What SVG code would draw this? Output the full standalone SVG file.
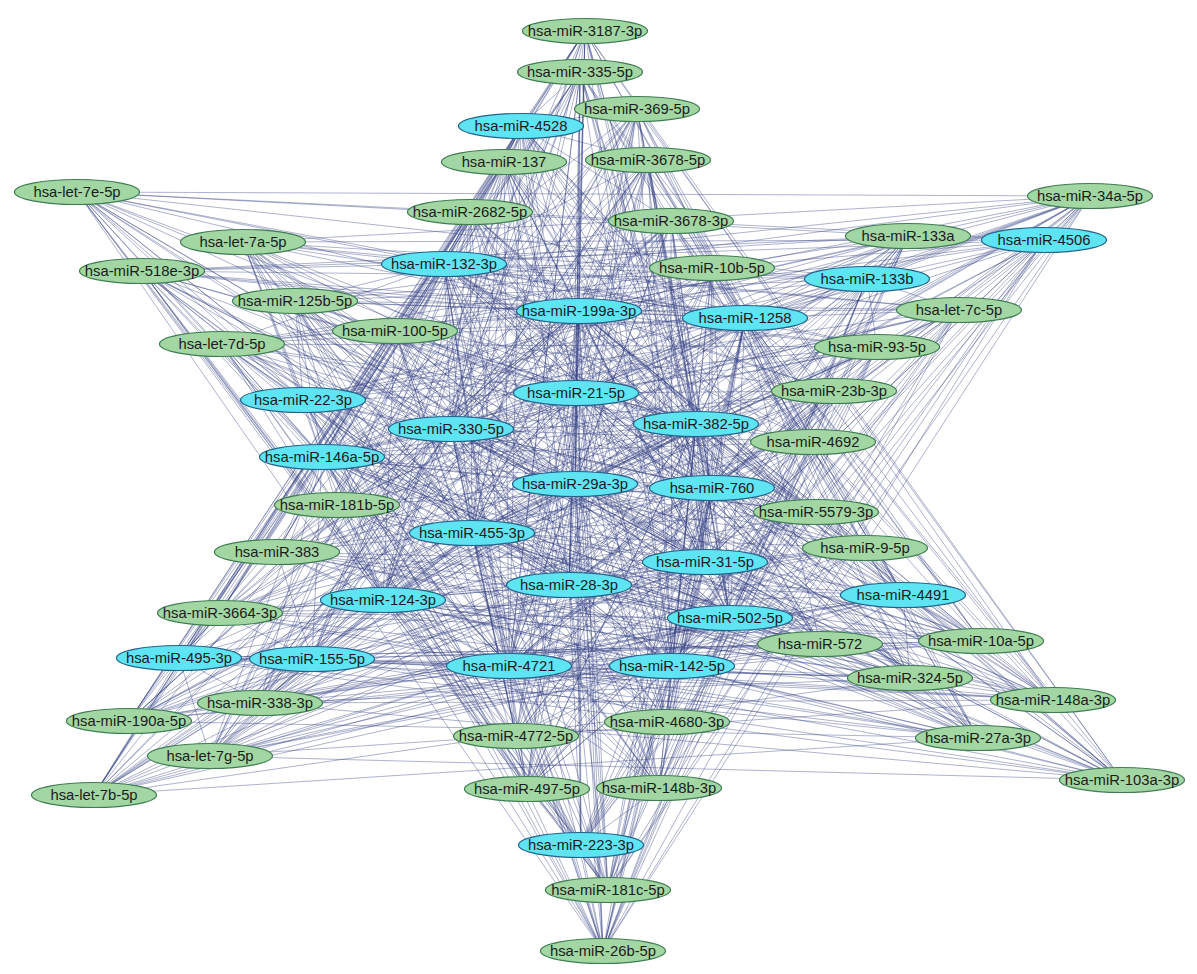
<svg xmlns="http://www.w3.org/2000/svg" width="1197" height="974" viewBox="0 0 1197 974">
<style>
#edges path{fill:none;stroke:#2f3b80;stroke-width:0.75;stroke-opacity:0.52}
.g ellipse{fill:#a2d6a2;stroke:#3f7d52;stroke-width:1.2}
.c ellipse{fill:#5fe4f4;stroke:#22648a;stroke-width:1.2}
text{font-family:"Liberation Sans",Arial,sans-serif;font-size:14.8px;fill:#1c1c1c;text-anchor:middle}
</style>
<rect width="1197" height="974" fill="#ffffff"/>
<g id="edges">
<path d="M585 31L521 126M585 31L444 264M585 31L579 311M585 31L745 318M585 31L576 393M585 31L696 424M585 31L451 429M585 31L322 457M585 31L575 484M585 31L712 488M585 31L472 533M585 31L705 562M585 31L569 585M585 31L903 595M585 31L383 600M585 31L730 618M585 31L179 658M585 31L312 659M585 31L509 666M585 31L672 666"/>
<path d="M580 72L521 126M580 72L444 264M580 72L579 311M580 72L745 318M580 72L576 393M580 72L696 424M580 72L451 429M580 72L322 457M580 72L575 484M580 72L712 488M580 72L472 533M580 72L705 562M580 72L569 585M580 72L903 595M580 72L383 600M580 72L730 618M580 72L179 658M580 72L312 659M580 72L509 666M580 72L672 666"/>
<path d="M637 109L521 126M637 109L444 264M637 109L579 311M637 109L745 318M637 109L576 393M637 109L696 424M637 109L451 429M637 109L322 457M637 109L575 484M637 109L712 488M637 109L472 533M637 109L705 562M637 109L569 585M637 109L903 595M637 109L383 600M637 109L730 618M637 109L179 658M637 109L312 659M637 109L509 666M637 109L672 666"/>
<path d="M504 162L521 126M504 162L444 264M504 162L579 311M504 162L745 318M504 162L576 393M504 162L696 424M504 162L451 429M504 162L322 457M504 162L575 484M504 162L712 488M504 162L472 533M504 162L705 562M504 162L569 585M504 162L903 595M504 162L383 600M504 162L730 618M504 162L179 658M504 162L312 659M504 162L509 666M504 162L672 666"/>
<path d="M648 160L521 126M648 160L444 264M648 160L579 311M648 160L745 318M648 160L576 393M648 160L696 424M648 160L451 429M648 160L322 457M648 160L575 484M648 160L712 488M648 160L472 533M648 160L705 562M648 160L569 585M648 160L903 595M648 160L383 600M648 160L730 618M648 160L179 658M648 160L312 659M648 160L509 666M648 160L672 666"/>
<path d="M470 212L521 126M470 212L444 264M470 212L579 311M470 212L745 318M470 212L576 393M470 212L696 424M470 212L451 429M470 212L322 457M470 212L575 484M470 212L712 488M470 212L472 533M470 212L705 562M470 212L569 585M470 212L903 595M470 212L383 600M470 212L730 618M470 212L179 658M470 212L312 659M470 212L509 666M470 212L672 666"/>
<path d="M671 221L521 126M671 221L444 264M671 221L579 311M671 221L745 318M671 221L576 393M671 221L696 424M671 221L451 429M671 221L322 457M671 221L575 484M671 221L712 488M671 221L472 533M671 221L705 562M671 221L569 585M671 221L903 595M671 221L383 600M671 221L730 618M671 221L179 658M671 221L312 659M671 221L509 666M671 221L672 666"/>
<path d="M220 613L521 126M220 613L444 264M220 613L579 311M220 613L745 318M220 613L576 393M220 613L696 424M220 613L451 429M220 613L322 457M220 613L575 484M220 613L712 488M220 613L472 533M220 613L705 562M220 613L569 585M220 613L903 595M220 613L383 600M220 613L730 618M220 613L179 658M220 613L312 659M220 613L509 666M220 613L672 666"/>
<path d="M260 703L521 126M260 703L444 264M260 703L579 311M260 703L745 318M260 703L576 393M260 703L696 424M260 703L451 429M260 703L322 457M260 703L575 484M260 703L712 488M260 703L472 533M260 703L705 562M260 703L569 585M260 703L903 595M260 703L383 600M260 703L730 618M260 703L179 658M260 703L312 659M260 703L509 666M260 703L672 666"/>
<path d="M129 721L521 126M129 721L444 264M129 721L579 311M129 721L745 318M129 721L576 393M129 721L696 424M129 721L451 429M129 721L322 457M129 721L575 484M129 721L712 488M129 721L472 533M129 721L705 562M129 721L569 585M129 721L903 595M129 721L383 600M129 721L730 618M129 721L179 658M129 721L312 659M129 721L509 666M129 721L672 666"/>
<path d="M210 756L521 126M210 756L444 264M210 756L579 311M210 756L745 318M210 756L576 393M210 756L696 424M210 756L451 429M210 756L322 457M210 756L575 484M210 756L712 488M210 756L472 533M210 756L705 562M210 756L569 585M210 756L903 595M210 756L383 600M210 756L730 618M210 756L179 658M210 756L312 659M210 756L509 666M210 756L672 666"/>
<path d="M94 795L521 126M94 795L444 264M94 795L579 311M94 795L745 318M94 795L576 393M94 795L696 424M94 795L451 429M94 795L322 457M94 795L575 484M94 795L712 488M94 795L472 533M94 795L705 562M94 795L569 585M94 795L903 595M94 795L383 600M94 795L730 618M94 795L179 658M94 795L312 659M94 795L509 666M94 795L672 666"/>
<path d="M277 552L521 126M277 552L444 264M277 552L579 311M277 552L745 318M277 552L576 393M277 552L696 424M277 552L451 429M277 552L322 457M277 552L575 484M277 552L712 488M277 552L472 533M277 552L705 562M277 552L569 585M277 552L903 595M277 552L383 600M277 552L730 618M277 552L179 658M277 552L312 659M277 552L509 666M277 552L672 666"/>
<path d="M820 644L521 126M820 644L444 264M820 644L579 311M820 644L745 318M820 644L576 393M820 644L696 424M820 644L451 429M820 644L322 457M820 644L575 484M820 644L712 488M820 644L472 533M820 644L705 562M820 644L569 585M820 644L903 595M820 644L383 600M820 644L730 618M820 644L179 658M820 644L312 659M820 644L509 666M820 644L672 666"/>
<path d="M981 641L521 126M981 641L444 264M981 641L579 311M981 641L745 318M981 641L576 393M981 641L696 424M981 641L451 429M981 641L322 457M981 641L575 484M981 641L712 488M981 641L472 533M981 641L705 562M981 641L569 585M981 641L903 595M981 641L383 600M981 641L730 618M981 641L179 658M981 641L312 659M981 641L509 666M981 641L672 666"/>
<path d="M910 678L521 126M910 678L444 264M910 678L579 311M910 678L745 318M910 678L576 393M910 678L696 424M910 678L451 429M910 678L322 457M910 678L575 484M910 678L712 488M910 678L472 533M910 678L705 562M910 678L569 585M910 678L903 595M910 678L383 600M910 678L730 618M910 678L179 658M910 678L312 659M910 678L509 666M910 678L672 666"/>
<path d="M1053 700L521 126M1053 700L444 264M1053 700L579 311M1053 700L745 318M1053 700L576 393M1053 700L696 424M1053 700L451 429M1053 700L322 457M1053 700L575 484M1053 700L712 488M1053 700L472 533M1053 700L705 562M1053 700L569 585M1053 700L903 595M1053 700L383 600M1053 700L730 618M1053 700L179 658M1053 700L312 659M1053 700L509 666M1053 700L672 666"/>
<path d="M978 738L521 126M978 738L444 264M978 738L579 311M978 738L745 318M978 738L576 393M978 738L696 424M978 738L451 429M978 738L322 457M978 738L575 484M978 738L712 488M978 738L472 533M978 738L705 562M978 738L569 585M978 738L903 595M978 738L383 600M978 738L730 618M978 738L179 658M978 738L312 659M978 738L509 666M978 738L672 666"/>
<path d="M1122 780L521 126M1122 780L444 264M1122 780L579 311M1122 780L745 318M1122 780L576 393M1122 780L696 424M1122 780L451 429M1122 780L322 457M1122 780L575 484M1122 780L712 488M1122 780L472 533M1122 780L705 562M1122 780L569 585M1122 780L903 595M1122 780L383 600M1122 780L730 618M1122 780L179 658M1122 780L312 659M1122 780L509 666M1122 780L672 666"/>
<path d="M865 548L521 126M865 548L444 264M865 548L579 311M865 548L745 318M865 548L576 393M865 548L696 424M865 548L451 429M865 548L322 457M865 548L575 484M865 548L712 488M865 548L472 533M865 548L705 562M865 548L569 585M865 548L903 595M865 548L383 600M865 548L730 618M865 548L179 658M865 548L312 659M865 548L509 666M865 548L672 666"/>
<path d="M77 192L444 264M77 192L579 311M77 192L745 318M77 192L1044 240M77 192L867 279M77 192L576 393M77 192L696 424M77 192L451 429M77 192L303 400M77 192L322 457M77 192L575 484M77 192L712 488M77 192L472 533M77 192L705 562M77 192L569 585M77 192L383 600M77 192L730 618M77 192L509 666M77 192L672 666M77 192L581 845"/>
<path d="M243 242L444 264M243 242L579 311M243 242L745 318M243 242L1044 240M243 242L867 279M243 242L576 393M243 242L696 424M243 242L451 429M243 242L303 400M243 242L322 457M243 242L575 484M243 242L712 488M243 242L472 533M243 242L705 562M243 242L569 585M243 242L383 600M243 242L730 618M243 242L509 666M243 242L672 666M243 242L581 845"/>
<path d="M142 271L444 264M142 271L579 311M142 271L745 318M142 271L1044 240M142 271L867 279M142 271L576 393M142 271L696 424M142 271L451 429M142 271L303 400M142 271L322 457M142 271L575 484M142 271L712 488M142 271L472 533M142 271L705 562M142 271L569 585M142 271L383 600M142 271L730 618M142 271L509 666M142 271L672 666M142 271L581 845"/>
<path d="M295 301L444 264M295 301L579 311M295 301L745 318M295 301L1044 240M295 301L867 279M295 301L576 393M295 301L696 424M295 301L451 429M295 301L303 400M295 301L322 457M295 301L575 484M295 301L712 488M295 301L472 533M295 301L705 562M295 301L569 585M295 301L383 600M295 301L730 618M295 301L509 666M295 301L672 666M295 301L581 845"/>
<path d="M222 344L444 264M222 344L579 311M222 344L745 318M222 344L1044 240M222 344L867 279M222 344L576 393M222 344L696 424M222 344L451 429M222 344L303 400M222 344L322 457M222 344L575 484M222 344L712 488M222 344L472 533M222 344L705 562M222 344L569 585M222 344L383 600M222 344L730 618M222 344L509 666M222 344L672 666M222 344L581 845"/>
<path d="M1090 196L444 264M1090 196L579 311M1090 196L745 318M1090 196L1044 240M1090 196L867 279M1090 196L576 393M1090 196L696 424M1090 196L451 429M1090 196L303 400M1090 196L322 457M1090 196L575 484M1090 196L712 488M1090 196L472 533M1090 196L705 562M1090 196L569 585M1090 196L383 600M1090 196L730 618M1090 196L509 666M1090 196L672 666M1090 196L581 845"/>
<path d="M908 236L444 264M908 236L579 311M908 236L745 318M908 236L1044 240M908 236L867 279M908 236L576 393M908 236L696 424M908 236L451 429M908 236L303 400M908 236L322 457M908 236L575 484M908 236L712 488M908 236L472 533M908 236L705 562M908 236L569 585M908 236L383 600M908 236L730 618M908 236L509 666M908 236L672 666M908 236L581 845"/>
<path d="M959 310L444 264M959 310L579 311M959 310L745 318M959 310L1044 240M959 310L867 279M959 310L576 393M959 310L696 424M959 310L451 429M959 310L303 400M959 310L322 457M959 310L575 484M959 310L712 488M959 310L472 533M959 310L705 562M959 310L569 585M959 310L383 600M959 310L730 618M959 310L509 666M959 310L672 666M959 310L581 845"/>
<path d="M877 347L444 264M877 347L579 311M877 347L745 318M877 347L1044 240M877 347L867 279M877 347L576 393M877 347L696 424M877 347L451 429M877 347L303 400M877 347L322 457M877 347L575 484M877 347L712 488M877 347L472 533M877 347L705 562M877 347L569 585M877 347L383 600M877 347L730 618M877 347L509 666M877 347L672 666M877 347L581 845"/>
<path d="M527 789L444 264M527 789L579 311M527 789L745 318M527 789L1044 240M527 789L867 279M527 789L576 393M527 789L696 424M527 789L451 429M527 789L303 400M527 789L322 457M527 789L575 484M527 789L712 488M527 789L472 533M527 789L705 562M527 789L569 585M527 789L383 600M527 789L730 618M527 789L509 666M527 789L672 666M527 789L581 845"/>
<path d="M659 788L444 264M659 788L579 311M659 788L745 318M659 788L1044 240M659 788L867 279M659 788L576 393M659 788L696 424M659 788L451 429M659 788L303 400M659 788L322 457M659 788L575 484M659 788L712 488M659 788L472 533M659 788L705 562M659 788L569 585M659 788L383 600M659 788L730 618M659 788L509 666M659 788L672 666M659 788L581 845"/>
<path d="M608 890L444 264M608 890L579 311M608 890L745 318M608 890L1044 240M608 890L867 279M608 890L576 393M608 890L696 424M608 890L451 429M608 890L303 400M608 890L322 457M608 890L575 484M608 890L712 488M608 890L472 533M608 890L705 562M608 890L569 585M608 890L383 600M608 890L730 618M608 890L509 666M608 890L672 666M608 890L581 845"/>
<path d="M603 951L444 264M603 951L579 311M603 951L745 318M603 951L1044 240M603 951L867 279M603 951L576 393M603 951L696 424M603 951L451 429M603 951L303 400M603 951L322 457M603 951L575 484M603 951L712 488M603 951L472 533M603 951L705 562M603 951L569 585M603 951L383 600M603 951L730 618M603 951L509 666M603 951L672 666M603 951L581 845"/>
<path d="M395 331L444 264M395 331L579 311M395 331L745 318M395 331L576 393M395 331L696 424M395 331L451 429M395 331L322 457M395 331L575 484M395 331L712 488M395 331L472 533M395 331L705 562M395 331L569 585M395 331L383 600M395 331L730 618M395 331L509 666M395 331L672 666"/>
<path d="M712 268L444 264M712 268L579 311M712 268L745 318M712 268L576 393M712 268L696 424M712 268L451 429M712 268L322 457M712 268L575 484M712 268L712 488M712 268L472 533M712 268L705 562M712 268L569 585M712 268L383 600M712 268L730 618M712 268L509 666M712 268L672 666"/>
<path d="M834 391L444 264M834 391L579 311M834 391L745 318M834 391L576 393M834 391L696 424M834 391L451 429M834 391L322 457M834 391L575 484M834 391L712 488M834 391L472 533M834 391L705 562M834 391L569 585M834 391L383 600M834 391L730 618M834 391L509 666M834 391L672 666"/>
<path d="M813 442L444 264M813 442L579 311M813 442L745 318M813 442L576 393M813 442L696 424M813 442L451 429M813 442L322 457M813 442L575 484M813 442L712 488M813 442L472 533M813 442L705 562M813 442L569 585M813 442L383 600M813 442L730 618M813 442L509 666M813 442L672 666"/>
<path d="M816 512L444 264M816 512L579 311M816 512L745 318M816 512L576 393M816 512L696 424M816 512L451 429M816 512L322 457M816 512L575 484M816 512L712 488M816 512L472 533M816 512L705 562M816 512L569 585M816 512L383 600M816 512L730 618M816 512L509 666M816 512L672 666"/>
<path d="M337 505L444 264M337 505L579 311M337 505L745 318M337 505L576 393M337 505L696 424M337 505L451 429M337 505L322 457M337 505L575 484M337 505L712 488M337 505L472 533M337 505L705 562M337 505L569 585M337 505L383 600M337 505L730 618M337 505L509 666M337 505L672 666"/>
<path d="M516 736L444 264M516 736L579 311M516 736L745 318M516 736L576 393M516 736L696 424M516 736L451 429M516 736L322 457M516 736L575 484M516 736L712 488M516 736L472 533M516 736L705 562M516 736L569 585M516 736L383 600M516 736L730 618M516 736L509 666M516 736L672 666"/>
<path d="M667 722L444 264M667 722L579 311M667 722L745 318M667 722L576 393M667 722L696 424M667 722L451 429M667 722L322 457M667 722L575 484M667 722L712 488M667 722L472 533M667 722L705 562M667 722L569 585M667 722L383 600M667 722L730 618M667 722L509 666M667 722L672 666"/>
<path d="M585 31L94 795M585 31L129 721M585 31L1122 780M585 31L1053 700M580 72L210 756M580 72L220 613M580 72L978 738M580 72L981 641M637 109L260 703M637 109L94 795M637 109L1122 780M637 109L910 678M504 162L129 721M504 162L277 552M504 162L978 738M504 162L820 644M648 160L210 756M648 160L260 703M648 160L1053 700M648 160L865 548M470 212L220 613M470 212L94 795M470 212L910 678M470 212L1122 780M671 221L277 552M671 221L129 721M671 221L981 641M671 221L978 738"/>
<path d="M94 795L978 738M94 795L910 678M210 756L1053 700M210 756L1122 780M210 756L820 644M129 721L978 738M129 721L981 641M260 703L1122 780M260 703L910 678M260 703L1053 700M220 613L978 738M220 613L981 641M277 552L1053 700M277 552L910 678"/>
<path d="M77 192L1090 196M77 192L908 236M77 192L603 951M77 192L608 890M243 242L1090 196M243 242L959 310M243 242L659 788M243 242L603 951M142 271L908 236M142 271L877 347M142 271L608 890M142 271L527 789M295 301L959 310M295 301L1090 196M295 301L603 951M295 301L659 788M222 344L877 347M222 344L908 236M222 344L608 890M222 344L667 722M395 331L1090 196M395 331L834 391M395 331L527 789M395 331L603 951"/>
<path d="M1090 196L603 951M1090 196L608 890M1090 196L527 789M908 236L659 788M908 236L603 951M908 236L516 736M959 310L608 890M959 310L527 789M959 310L603 951M877 347L603 951M877 347L659 788M712 268L608 890M712 268L527 789M834 391L603 951M834 391L516 736"/>
<path d="M521 126L444 264M521 126L579 311M521 126L576 393M521 126L451 429M521 126L575 484M521 126L472 533M521 126L569 585M521 126L509 666M521 126L383 600M521 126L712 488M521 126L705 562M444 264L579 311M444 264L745 318M444 264L576 393M444 264L696 424M444 264L451 429M444 264L303 400M444 264L575 484M444 264L712 488M444 264L472 533M444 264L569 585M444 264L509 666M444 264L867 279"/>
<path d="M579 311L745 318M579 311L576 393M579 311L696 424M579 311L451 429M579 311L322 457M579 311L575 484M579 311L712 488M579 311L472 533M579 311L705 562M579 311L569 585M579 311L730 618M579 311L509 666M579 311L672 666M579 311L1044 240M579 311L581 845M745 318L867 279M745 318L576 393M745 318L696 424M745 318L451 429M745 318L575 484M745 318L712 488M745 318L705 562M745 318L569 585M745 318L730 618M745 318L672 666M745 318L1044 240M745 318L303 400"/>
<path d="M1044 240L867 279M1044 240L696 424M1044 240L712 488M1044 240L705 562M1044 240L576 393M1044 240L575 484M1044 240L581 845M867 279L576 393M867 279L696 424M867 279L712 488M867 279L705 562M867 279L730 618M867 279L575 484M867 279L303 400"/>
<path d="M576 393L696 424M576 393L451 429M576 393L303 400M576 393L322 457M576 393L575 484M576 393L712 488M576 393L472 533M576 393L705 562M576 393L569 585M576 393L383 600M576 393L730 618M576 393L509 666M576 393L672 666M576 393L581 845M696 424L451 429M696 424L575 484M696 424L712 488M696 424L472 533M696 424L705 562M696 424L569 585M696 424L903 595M696 424L730 618M696 424L509 666M696 424L672 666M696 424L322 457"/>
<path d="M451 429L303 400M451 429L322 457M451 429L575 484M451 429L712 488M451 429L472 533M451 429L705 562M451 429L569 585M451 429L383 600M451 429L509 666M451 429L672 666M303 400L322 457M303 400L575 484M303 400L472 533M303 400L569 585M303 400L712 488M303 400L509 666M303 400L581 845M322 457L575 484M322 457L472 533M322 457L569 585M322 457L383 600M322 457L509 666M322 457L712 488M322 457L312 659"/>
<path d="M575 484L712 488M575 484L472 533M575 484L705 562M575 484L569 585M575 484L383 600M575 484L730 618M575 484L509 666M575 484L672 666M575 484L581 845M575 484L903 595M575 484L179 658M712 488L472 533M712 488L705 562M712 488L569 585M712 488L903 595M712 488L730 618M712 488L509 666M712 488L672 666M712 488L581 845"/>
<path d="M472 533L705 562M472 533L569 585M472 533L383 600M472 533L509 666M472 533L672 666M472 533L730 618M472 533L312 659M705 562L569 585M705 562L903 595M705 562L730 618M705 562L509 666M705 562L672 666M705 562L581 845M569 585L383 600M569 585L730 618M569 585L509 666M569 585L672 666M569 585L581 845M569 585L312 659M569 585L903 595"/>
<path d="M903 595L730 618M903 595L672 666M903 595L509 666M383 600L179 658M383 600L312 659M383 600L509 666M383 600L672 666M730 618L509 666M730 618L672 666M730 618L581 845M179 658L312 659M179 658L509 666M312 659L509 666M312 659L672 666M509 666L672 666M509 666L581 845M672 666L581 845"/>
</g>
<g id="n-3187-3p" class="g"><ellipse cx="585" cy="31" rx="62.5" ry="12.5"/><text x="585" y="36">hsa-miR-3187-3p</text></g>
<g id="n-335-5p" class="g"><ellipse cx="580" cy="72" rx="62.5" ry="12.5"/><text x="580" y="77">hsa-miR-335-5p</text></g>
<g id="n-369-5p" class="g"><ellipse cx="637" cy="109" rx="62.5" ry="12.5"/><text x="637" y="114">hsa-miR-369-5p</text></g>
<g id="n-4528" class="c"><ellipse cx="521" cy="126" rx="62.5" ry="12.5"/><text x="521" y="131">hsa-miR-4528</text></g>
<g id="n-137" class="g"><ellipse cx="504" cy="162" rx="62.5" ry="12.5"/><text x="504" y="167">hsa-miR-137</text></g>
<g id="n-3678-5p" class="g"><ellipse cx="648" cy="160" rx="62.5" ry="12.5"/><text x="648" y="165">hsa-miR-3678-5p</text></g>
<g id="n-2682-5p" class="g"><ellipse cx="470" cy="212" rx="62.5" ry="12.5"/><text x="470" y="217">hsa-miR-2682-5p</text></g>
<g id="n-3678-3p" class="g"><ellipse cx="671" cy="221" rx="62.5" ry="12.5"/><text x="671" y="226">hsa-miR-3678-3p</text></g>
<g id="n-let-7e-5p" class="g"><ellipse cx="77" cy="192" rx="62.5" ry="12.5"/><text x="77" y="197">hsa-let-7e-5p</text></g>
<g id="n-let-7a-5p" class="g"><ellipse cx="243" cy="242" rx="62.5" ry="12.5"/><text x="243" y="247">hsa-let-7a-5p</text></g>
<g id="n-518e-3p" class="g"><ellipse cx="142" cy="271" rx="62.5" ry="12.5"/><text x="142" y="276">hsa-miR-518e-3p</text></g>
<g id="n-125b-5p" class="g"><ellipse cx="295" cy="301" rx="62.5" ry="12.5"/><text x="295" y="306">hsa-miR-125b-5p</text></g>
<g id="n-let-7d-5p" class="g"><ellipse cx="222" cy="344" rx="62.5" ry="12.5"/><text x="222" y="349">hsa-let-7d-5p</text></g>
<g id="n-100-5p" class="g"><ellipse cx="395" cy="331" rx="62.5" ry="12.5"/><text x="395" y="336">hsa-miR-100-5p</text></g>
<g id="n-132-3p" class="c"><ellipse cx="444" cy="264" rx="62.5" ry="12.5"/><text x="444" y="269">hsa-miR-132-3p</text></g>
<g id="n-199a-3p" class="c"><ellipse cx="579" cy="311" rx="62.5" ry="12.5"/><text x="579" y="316">hsa-miR-199a-3p</text></g>
<g id="n-1258" class="c"><ellipse cx="745" cy="318" rx="62.5" ry="12.5"/><text x="745" y="323">hsa-miR-1258</text></g>
<g id="n-10b-5p" class="g"><ellipse cx="712" cy="268" rx="62.5" ry="12.5"/><text x="712" y="273">hsa-miR-10b-5p</text></g>
<g id="n-133a" class="g"><ellipse cx="908" cy="236" rx="62.5" ry="12.5"/><text x="908" y="241">hsa-miR-133a</text></g>
<g id="n-4506" class="c"><ellipse cx="1044" cy="240" rx="62.5" ry="12.5"/><text x="1044" y="245">hsa-miR-4506</text></g>
<g id="n-34a-5p" class="g"><ellipse cx="1090" cy="196" rx="62.5" ry="12.5"/><text x="1090" y="201">hsa-miR-34a-5p</text></g>
<g id="n-133b" class="c"><ellipse cx="867" cy="279" rx="62.5" ry="12.5"/><text x="867" y="284">hsa-miR-133b</text></g>
<g id="n-let-7c-5p" class="g"><ellipse cx="959" cy="310" rx="62.5" ry="12.5"/><text x="959" y="315">hsa-let-7c-5p</text></g>
<g id="n-93-5p" class="g"><ellipse cx="877" cy="347" rx="62.5" ry="12.5"/><text x="877" y="352">hsa-miR-93-5p</text></g>
<g id="n-23b-3p" class="g"><ellipse cx="834" cy="391" rx="62.5" ry="12.5"/><text x="834" y="396">hsa-miR-23b-3p</text></g>
<g id="n-4692" class="g"><ellipse cx="813" cy="442" rx="62.5" ry="12.5"/><text x="813" y="447">hsa-miR-4692</text></g>
<g id="n-21-5p" class="c"><ellipse cx="576" cy="393" rx="62.5" ry="12.5"/><text x="576" y="398">hsa-miR-21-5p</text></g>
<g id="n-382-5p" class="c"><ellipse cx="696" cy="424" rx="62.5" ry="12.5"/><text x="696" y="429">hsa-miR-382-5p</text></g>
<g id="n-330-5p" class="c"><ellipse cx="451" cy="429" rx="62.5" ry="12.5"/><text x="451" y="434">hsa-miR-330-5p</text></g>
<g id="n-22-3p" class="c"><ellipse cx="303" cy="400" rx="62.5" ry="12.5"/><text x="303" y="405">hsa-miR-22-3p</text></g>
<g id="n-146a-5p" class="c"><ellipse cx="322" cy="457" rx="62.5" ry="12.5"/><text x="322" y="462">hsa-miR-146a-5p</text></g>
<g id="n-29a-3p" class="c"><ellipse cx="575" cy="484" rx="62.5" ry="12.5"/><text x="575" y="489">hsa-miR-29a-3p</text></g>
<g id="n-760" class="c"><ellipse cx="712" cy="488" rx="62.5" ry="12.5"/><text x="712" y="493">hsa-miR-760</text></g>
<g id="n-181b-5p" class="g"><ellipse cx="337" cy="505" rx="62.5" ry="12.5"/><text x="337" y="510">hsa-miR-181b-5p</text></g>
<g id="n-5579-3p" class="g"><ellipse cx="816" cy="512" rx="62.5" ry="12.5"/><text x="816" y="517">hsa-miR-5579-3p</text></g>
<g id="n-455-3p" class="c"><ellipse cx="472" cy="533" rx="62.5" ry="12.5"/><text x="472" y="538">hsa-miR-455-3p</text></g>
<g id="n-383" class="g"><ellipse cx="277" cy="552" rx="62.5" ry="12.5"/><text x="277" y="557">hsa-miR-383</text></g>
<g id="n-9-5p" class="g"><ellipse cx="865" cy="548" rx="62.5" ry="12.5"/><text x="865" y="553">hsa-miR-9-5p</text></g>
<g id="n-31-5p" class="c"><ellipse cx="705" cy="562" rx="62.5" ry="12.5"/><text x="705" y="567">hsa-miR-31-5p</text></g>
<g id="n-28-3p" class="c"><ellipse cx="569" cy="585" rx="62.5" ry="12.5"/><text x="569" y="590">hsa-miR-28-3p</text></g>
<g id="n-4491" class="c"><ellipse cx="903" cy="595" rx="62.5" ry="12.5"/><text x="903" y="600">hsa-miR-4491</text></g>
<g id="n-124-3p" class="c"><ellipse cx="383" cy="600" rx="62.5" ry="12.5"/><text x="383" y="605">hsa-miR-124-3p</text></g>
<g id="n-3664-3p" class="g"><ellipse cx="220" cy="613" rx="62.5" ry="12.5"/><text x="220" y="618">hsa-miR-3664-3p</text></g>
<g id="n-502-5p" class="c"><ellipse cx="730" cy="618" rx="62.5" ry="12.5"/><text x="730" y="623">hsa-miR-502-5p</text></g>
<g id="n-572" class="g"><ellipse cx="820" cy="644" rx="62.5" ry="12.5"/><text x="820" y="649">hsa-miR-572</text></g>
<g id="n-10a-5p" class="g"><ellipse cx="981" cy="641" rx="62.5" ry="12.5"/><text x="981" y="646">hsa-miR-10a-5p</text></g>
<g id="n-495-3p" class="c"><ellipse cx="179" cy="658" rx="62.5" ry="12.5"/><text x="179" y="663">hsa-miR-495-3p</text></g>
<g id="n-155-5p" class="c"><ellipse cx="312" cy="659" rx="62.5" ry="12.5"/><text x="312" y="664">hsa-miR-155-5p</text></g>
<g id="n-4721" class="c"><ellipse cx="509" cy="666" rx="62.5" ry="12.5"/><text x="509" y="671">hsa-miR-4721</text></g>
<g id="n-142-5p" class="c"><ellipse cx="672" cy="666" rx="62.5" ry="12.5"/><text x="672" y="671">hsa-miR-142-5p</text></g>
<g id="n-324-5p" class="g"><ellipse cx="910" cy="678" rx="62.5" ry="12.5"/><text x="910" y="683">hsa-miR-324-5p</text></g>
<g id="n-338-3p" class="g"><ellipse cx="260" cy="703" rx="62.5" ry="12.5"/><text x="260" y="708">hsa-miR-338-3p</text></g>
<g id="n-148a-3p" class="g"><ellipse cx="1053" cy="700" rx="62.5" ry="12.5"/><text x="1053" y="705">hsa-miR-148a-3p</text></g>
<g id="n-190a-5p" class="g"><ellipse cx="129" cy="721" rx="62.5" ry="12.5"/><text x="129" y="726">hsa-miR-190a-5p</text></g>
<g id="n-4772-5p" class="g"><ellipse cx="516" cy="736" rx="62.5" ry="12.5"/><text x="516" y="741">hsa-miR-4772-5p</text></g>
<g id="n-4680-3p" class="g"><ellipse cx="667" cy="722" rx="62.5" ry="12.5"/><text x="667" y="727">hsa-miR-4680-3p</text></g>
<g id="n-27a-3p" class="g"><ellipse cx="978" cy="738" rx="62.5" ry="12.5"/><text x="978" y="743">hsa-miR-27a-3p</text></g>
<g id="n-let-7g-5p" class="g"><ellipse cx="210" cy="756" rx="62.5" ry="12.5"/><text x="210" y="761">hsa-let-7g-5p</text></g>
<g id="n-103a-3p" class="g"><ellipse cx="1122" cy="780" rx="62.5" ry="12.5"/><text x="1122" y="785">hsa-miR-103a-3p</text></g>
<g id="n-let-7b-5p" class="g"><ellipse cx="94" cy="795" rx="62.5" ry="12.5"/><text x="94" y="800">hsa-let-7b-5p</text></g>
<g id="n-497-5p" class="g"><ellipse cx="527" cy="789" rx="62.5" ry="12.5"/><text x="527" y="794">hsa-miR-497-5p</text></g>
<g id="n-148b-3p" class="g"><ellipse cx="659" cy="788" rx="62.5" ry="12.5"/><text x="659" y="793">hsa-miR-148b-3p</text></g>
<g id="n-223-3p" class="c"><ellipse cx="581" cy="845" rx="62.5" ry="12.5"/><text x="581" y="850">hsa-miR-223-3p</text></g>
<g id="n-181c-5p" class="g"><ellipse cx="608" cy="890" rx="62.5" ry="12.5"/><text x="608" y="895">hsa-miR-181c-5p</text></g>
<g id="n-26b-5p" class="g"><ellipse cx="603" cy="951" rx="62.5" ry="12.5"/><text x="603" y="956">hsa-miR-26b-5p</text></g>
</svg>
